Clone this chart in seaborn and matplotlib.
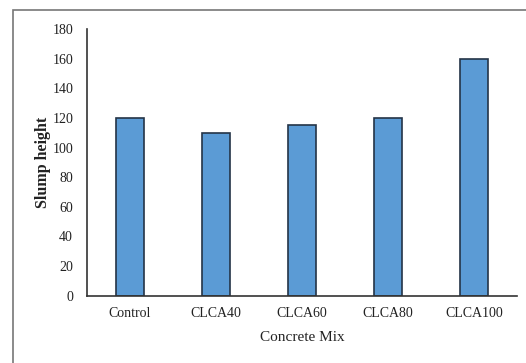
import matplotlib
matplotlib.use("Agg")
import matplotlib.pyplot as plt
import seaborn as sns
import pandas as pd
from matplotlib.patches import Rectangle

mixes = ["Control", "CLCA40", "CLCA60", "CLCA80", "CLCA100"]
slump = [120, 110, 115, 120, 160]
y_ticks = [0, 20, 40, 60, 80, 100, 120, 140, 160, 180]

sns.set_theme(style="white")
plt.rcParams["font.family"] = ["Liberation Serif", "DejaVu Serif"]

df = pd.DataFrame({"Concrete Mix": mixes, "Slump height": slump})

fig = plt.figure(figsize=(5.26, 3.63), dpi=100)
ax = fig.add_axes([0.1654, 0.1854, 0.8176, 0.7347])

sns.barplot(data=df, x="Concrete Mix", y="Slump height", ax=ax,
            color="#5B9BD5", saturation=1, width=0.33,
            edgecolor="#243447", linewidth=1.2)

ax.set_ylim(0, 180)
ax.set_xlim(-0.5, len(mixes) - 0.5)
ax.set_yticks(y_ticks)
ax.tick_params(axis="both", length=0, labelsize=10, colors="#222222", pad=10)
ax.tick_params(axis="x", pad=8)

for side in ["top", "right"]:
    ax.spines[side].set_visible(False)
for side in ["left", "bottom"]:
    ax.spines[side].set_color("#333333")
    ax.spines[side].set_linewidth(1.2)

ax.set_xlabel("Concrete Mix", fontsize=11, color="#222222", labelpad=8)
ax.set_ylabel("Slump height", fontsize=11.5, fontweight="bold", color="#222222", labelpad=1)

# chart area border (open on the right and bottom edges)
fig.patches.append(Rectangle((13 / 526, -0.05), 1.1, 1 - 10 / 363 + 0.05,
                             transform=fig.transFigure, fill=False,
                             edgecolor="#777777", linewidth=1.2))

fig.savefig("out.png", dpi=100)
